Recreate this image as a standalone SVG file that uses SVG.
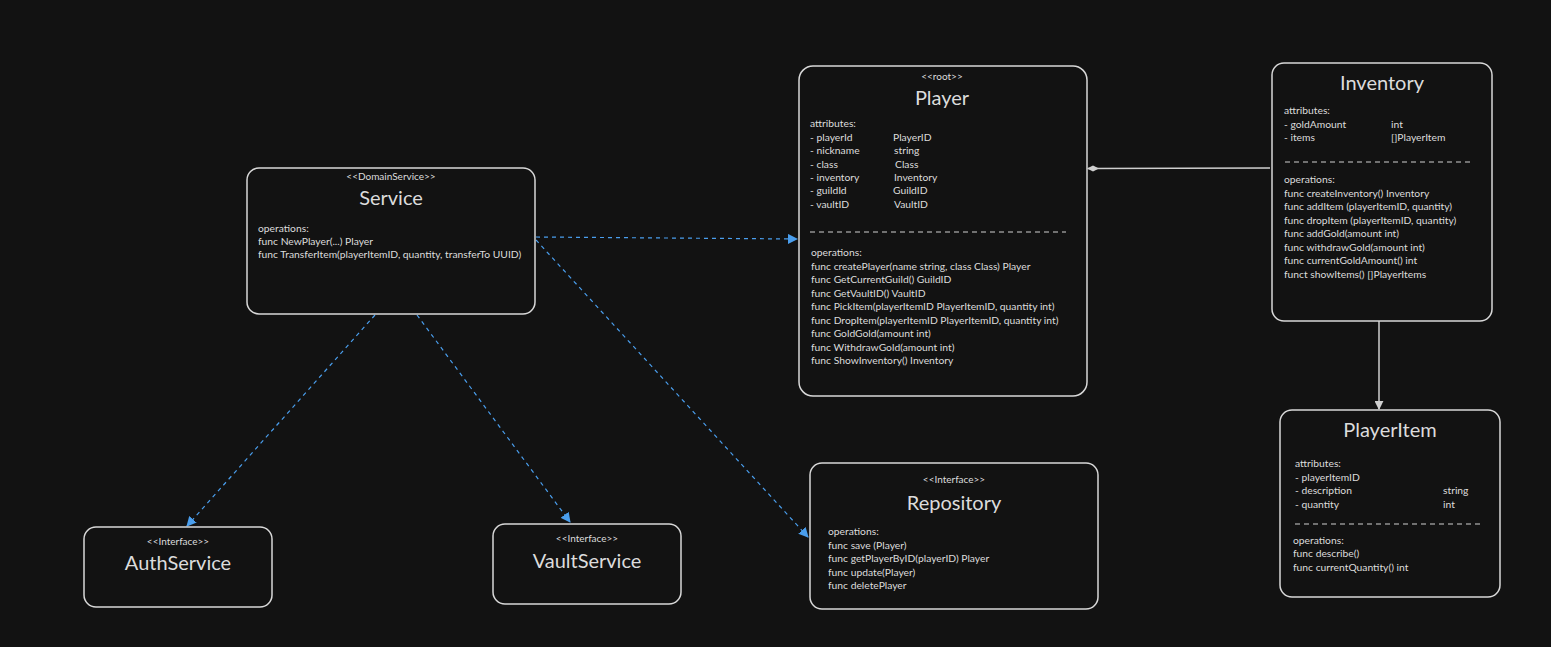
<svg xmlns="http://www.w3.org/2000/svg" width="1551" height="647" viewBox="0 0 1551 647">
  <defs>
    <style>
      .box { fill: #121212; stroke: #d8d8d8; stroke-width: 1.5; }
      .t { font-family: Lato, "Noto Sans", sans-serif; fill: #dcdcdc; }
      .st { font-size: 10px; text-anchor: middle; }
      .title { font-size: 20px; text-anchor: middle; }
      .body { font-size: 10.3px; }
      .sep { stroke: #d0d0d0; stroke-width: 1.2; stroke-dasharray: 5 4; fill: none; }
      .dep { stroke: #4a9eed; stroke-width: 1.2; stroke-dasharray: 4 4; fill: none; }
      .solid { stroke: #cfcfcf; stroke-width: 1.5; fill: none; }
    </style>
    <marker id="blueArrow" viewBox="0 0 10 10" refX="9" refY="5" markerWidth="10" markerHeight="10" markerUnits="userSpaceOnUse" orient="auto">
      <path d="M0,0 L10,5 L0,10 z" fill="#4a9eed"/>
    </marker>
    <marker id="grayArrow" viewBox="0 0 10 10" refX="9" refY="5" markerWidth="9" markerHeight="9" markerUnits="userSpaceOnUse" orient="auto">
      <path d="M0,0 L10,5 L0,10 z" fill="#cfcfcf"/>
    </marker>
    <marker id="diamond" viewBox="0 0 12 8" refX="11" refY="4" markerWidth="12" markerHeight="8" markerUnits="userSpaceOnUse" orient="auto">
      <path d="M0,4 L6,1 L12,4 L6,7 z" fill="#cfcfcf"/>
    </marker>
  </defs>

  <rect width="1551" height="647" fill="#121212"/>

  <!-- connectors -->
  <g id="connectors">
    <path class="dep" d="M536,237 L797,239" marker-end="url(#blueArrow)"/>
    <path class="dep" d="M536,240 L808,537" marker-end="url(#blueArrow)"/>
    <path class="dep" d="M375,315 L187,526" marker-end="url(#blueArrow)"/>
    <path class="dep" d="M417,315 L570,522" marker-end="url(#blueArrow)"/>
    <path class="solid" d="M1270,168 L1088,168.5" marker-end="url(#diamond)"/>
    <path class="solid" d="M1379,321 L1379,409" marker-end="url(#grayArrow)"/>
  </g>

  <!-- Service -->
  <g id="service">
    <rect class="box" x="247" y="168" width="288" height="146" rx="12"/>
    <text class="t st" x="391" y="180">&lt;&lt;DomainService&gt;&gt;</text>
    <text class="t title" x="391" y="205">Service</text>
    <text class="t body" x="258" y="232">operations:</text>
    <text class="t body" x="258" y="245">func NewPlayer(...) Player</text>
    <text class="t body" x="258" y="258">func TransferItem(playerItemID, quantity, transferTo UUID)</text>
  </g>

  <!-- Player -->
  <g id="player">
    <rect class="box" x="799" y="66" width="288" height="330" rx="14"/>
    <text class="t st" x="942" y="80">&lt;&lt;root&gt;&gt;</text>
    <text class="t title" x="942" y="105">Player</text>
    <text class="t body" x="810" y="127">attributes:</text>
    <text class="t body" x="810" y="141">- playerId</text><text class="t body" x="893" y="141">PlayerID</text>
    <text class="t body" x="810" y="154">- nickname</text><text class="t body" x="894" y="154">string</text>
    <text class="t body" x="810" y="168">- class</text><text class="t body" x="895" y="168">Class</text>
    <text class="t body" x="810" y="181">- inventory</text><text class="t body" x="894" y="181">Inventory</text>
    <text class="t body" x="810" y="194">- guildId</text><text class="t body" x="893" y="194">GuildID</text>
    <text class="t body" x="810" y="208">- vaultID</text><text class="t body" x="894" y="208">VaultID</text>
    <path class="sep" d="M810,232 L1066,232"/>
    <text class="t body" x="811" y="256">operations:</text>
    <text class="t body" x="811" y="270">func createPlayer(name string, class Class) Player</text>
    <text class="t body" x="811" y="283">func GetCurrentGuild() GuildID</text>
    <text class="t body" x="811" y="297">func GetVaultID() VaultID</text>
    <text class="t body" x="811" y="310">func PickItem(playerItemID PlayerItemID, quantity int)</text>
    <text class="t body" x="811" y="324">func DropItem(playerItemID PlayerItemID, quantity int)</text>
    <text class="t body" x="811" y="337">func GoldGold(amount int)</text>
    <text class="t body" x="811" y="351">func WithdrawGold(amount int)</text>
    <text class="t body" x="811" y="364">func ShowInventory() Inventory</text>
  </g>

  <!-- Inventory -->
  <g id="inventory">
    <rect class="box" x="1272" y="63" width="220" height="258" rx="12"/>
    <text class="t title" x="1382" y="90">Inventory</text>
    <text class="t body" x="1284" y="114">attributes:</text>
    <text class="t body" x="1284" y="128">- goldAmount</text><text class="t body" x="1391" y="128">int</text>
    <text class="t body" x="1284" y="141">- items</text><text class="t body" x="1391" y="141">[]PlayerItem</text>
    <path class="sep" d="M1285,162 L1472,162"/>
    <text class="t body" x="1284" y="183">operations:</text>
    <text class="t body" x="1284" y="197">func createInventory() Inventory</text>
    <text class="t body" x="1284" y="210">func addItem (playerItemID, quantity)</text>
    <text class="t body" x="1284" y="224">func dropItem (playerItemID, quantity)</text>
    <text class="t body" x="1284" y="237">func addGold(amount int)</text>
    <text class="t body" x="1284" y="251">func withdrawGold(amount int)</text>
    <text class="t body" x="1284" y="264">func currentGoldAmount() int</text>
    <text class="t body" x="1284" y="278">funct showItems() []PlayerItems</text>
  </g>

  <!-- PlayerItem -->
  <g id="player-item">
    <rect class="box" x="1280" y="410" width="220" height="187" rx="12"/>
    <text class="t title" x="1390" y="437">PlayerItem</text>
    <text class="t body" x="1295" y="467">attributes:</text>
    <text class="t body" x="1295" y="481">- playerItemID</text>
    <text class="t body" x="1295" y="494">- description</text><text class="t body" x="1443" y="494">string</text>
    <text class="t body" x="1295" y="508">- quantity</text><text class="t body" x="1443" y="508">int</text>
    <path class="sep" d="M1295,524 L1481,524"/>
    <text class="t body" x="1293" y="544">operations:</text>
    <text class="t body" x="1293" y="557">func describe()</text>
    <text class="t body" x="1293" y="571">func currentQuantity() int</text>
  </g>

  <!-- Repository -->
  <g id="repository">
    <rect class="box" x="810" y="463" width="288" height="146" rx="12"/>
    <text class="t st" x="954" y="483">&lt;&lt;Interface&gt;&gt;</text>
    <text class="t title" x="954" y="510">Repository</text>
    <text class="t body" x="828" y="535">operations:</text>
    <text class="t body" x="828" y="549">func save (Player)</text>
    <text class="t body" x="828" y="562">func getPlayerByID(playerID) Player</text>
    <text class="t body" x="828" y="576">func update(Player)</text>
    <text class="t body" x="828" y="589">func deletePlayer</text>
  </g>

  <!-- AuthService -->
  <g id="auth-service">
    <rect class="box" x="84" y="527" width="188" height="80" rx="12"/>
    <text class="t st" x="178" y="545">&lt;&lt;Interface&gt;&gt;</text>
    <text class="t title" x="178" y="570">AuthService</text>
  </g>

  <!-- VaultService -->
  <g id="vault-service">
    <rect class="box" x="493" y="524" width="188" height="80" rx="12"/>
    <text class="t st" x="587" y="542">&lt;&lt;Interface&gt;&gt;</text>
    <text class="t title" x="587" y="568">VaultService</text>
  </g>
</svg>
